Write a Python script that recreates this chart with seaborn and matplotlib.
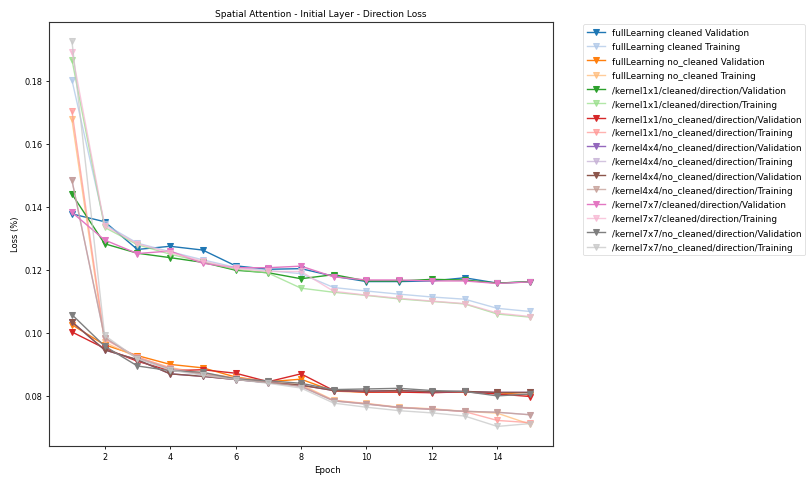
import matplotlib
matplotlib.use("Agg")
import matplotlib.pyplot as plt
import seaborn as sns
import pandas as pd

epochs = list(range(1, 16))

labels = [
    "fullLearning cleaned Validation",
    "fullLearning cleaned Training",
    "fullLearning no_cleaned Validation",
    "fullLearning no_cleaned Training",
    "/kernel1x1/cleaned/direction/Validation",
    "/kernel1x1/cleaned/direction/Training",
    "/kernel1x1/no_cleaned/direction/Validation",
    "/kernel1x1/no_cleaned/direction/Training",
    "/kernel4x4/no_cleaned/direction/Validation",
    "/kernel4x4/no_cleaned/direction/Training",
    "/kernel4x4/no_cleaned/direction/Validation",
    "/kernel4x4/no_cleaned/direction/Training",
    "/kernel7x7/cleaned/direction/Validation",
    "/kernel7x7/cleaned/direction/Training",
    "/kernel7x7/no_cleaned/direction/Validation",
    "/kernel7x7/no_cleaned/direction/Training",
]

full_clean_val = [0.1378, 0.1353, 0.1265, 0.1275, 0.1263, 0.1213, 0.1202, 0.1204, 0.1180, 0.1163, 0.1163, 0.1165, 0.1175, 0.1158, 0.1162]
full_clean_train = [0.1803, 0.1345, 0.1285, 0.1258, 0.1232, 0.1208, 0.1198, 0.1188, 0.1144, 0.1133, 0.1123, 0.1114, 0.1107, 0.1078, 0.1068]
full_noclean_val = [0.1026, 0.0962, 0.0928, 0.0900, 0.0889, 0.0860, 0.0845, 0.0853, 0.0815, 0.0812, 0.0813, 0.0811, 0.0812, 0.0810, 0.0803]
full_noclean_train = [0.1678, 0.0970, 0.0922, 0.0890, 0.0872, 0.0858, 0.0846, 0.0836, 0.0786, 0.0776, 0.0764, 0.0759, 0.0751, 0.0745, 0.0710]
k1_clean_val = [0.1441, 0.1283, 0.1253, 0.1239, 0.1224, 0.1199, 0.1191, 0.1172, 0.1185, 0.1165, 0.1165, 0.1170, 0.1168, 0.1158, 0.1163]
k1_clean_train = [0.1868, 0.1335, 0.1280, 0.1250, 0.1225, 0.1202, 0.1190, 0.1142, 0.1129, 0.1119, 0.1108, 0.1100, 0.1092, 0.1060, 0.1050]
k1_noclean_val = [0.1003, 0.0951, 0.0910, 0.0880, 0.0883, 0.0872, 0.0845, 0.0870, 0.0817, 0.0812, 0.0812, 0.0810, 0.0813, 0.0806, 0.0798]
k1_noclean_train = [0.1705, 0.0980, 0.0924, 0.0888, 0.0870, 0.0857, 0.0845, 0.0832, 0.0785, 0.0775, 0.0763, 0.0758, 0.0750, 0.0722, 0.0715]
k4_noclean_val = [0.1035, 0.0946, 0.0915, 0.0870, 0.0862, 0.0852, 0.0842, 0.0834, 0.0817, 0.0815, 0.0817, 0.0813, 0.0814, 0.0811, 0.0811]
k4_noclean_train = [0.1485, 0.0985, 0.0920, 0.0885, 0.0868, 0.0855, 0.0843, 0.0830, 0.0784, 0.0774, 0.0763, 0.0757, 0.0751, 0.0748, 0.0740]
k7_clean_val = [0.1383, 0.1295, 0.1252, 0.1260, 0.1221, 0.1207, 0.1207, 0.1212, 0.1178, 0.1168, 0.1168, 0.1165, 0.1165, 0.1157, 0.1162]
k7_clean_train = [0.1893, 0.1340, 0.1283, 0.1255, 0.1228, 0.1205, 0.1195, 0.1195, 0.1132, 0.1120, 0.1110, 0.1101, 0.1093, 0.1063, 0.1052]
k7_noclean_val = [0.1058, 0.0958, 0.0895, 0.0880, 0.0875, 0.0854, 0.0848, 0.0840, 0.0820, 0.0822, 0.0824, 0.0817, 0.0814, 0.0800, 0.0806]
k7_noclean_train = [0.1927, 0.0992, 0.0918, 0.0882, 0.0865, 0.0852, 0.0840, 0.0825, 0.0777, 0.0764, 0.0753, 0.0746, 0.0736, 0.0703, 0.0712]

series = [
    full_clean_val, full_clean_train,
    full_noclean_val, full_noclean_train,
    k1_clean_val, k1_clean_train,
    k1_noclean_val, k1_noclean_train,
    k4_noclean_val, k4_noclean_train,
    k4_noclean_val, k4_noclean_train,
    k7_clean_val, k7_clean_train,
    k7_noclean_val, k7_noclean_train,
]

colors = sns.color_palette("tab20", 16)

fig = plt.figure(figsize=(8.07, 4.81), dpi=100)
ax = fig.add_axes([49 / 807, 1 - 446.7 / 481, (553 - 49) / 807, (446.7 - 22.7) / 481])

for i, (lab, vals) in enumerate(zip(labels, series)):
    df = pd.DataFrame({"Epoch": epochs, "Loss": vals})
    is_train = i % 2 == 1
    sns.lineplot(data=df, x="Epoch", y="Loss", ax=ax, color=colors[i],
                 marker="v", markersize=4.2, linewidth=1.0,
                 markeredgecolor=colors[i], alpha=0.75 if is_train else 1.0,
                 label=lab)

ax.set_title("Spatial Attention - Initial Layer - Direction Loss", fontsize=6.5, pad=4, x=0.54)
ax.set_xlabel("Epoch", fontsize=6.3)
ax.xaxis.set_label_coords(0.553, -0.045)
ax.set_ylabel("Loss (%)", fontsize=6.0, labelpad=3)
ax.tick_params(axis="both", labelsize=5.9, length=2.5, width=0.6, pad=2)
for sp in ax.spines.values():
    sp.set_linewidth(0.8)
    sp.set_color("#333333")
ax.set_xticks([2, 4, 6, 8, 10, 12, 14])
ax.set_yticks([0.08, 0.10, 0.12, 0.14, 0.16, 0.18])

leg = ax.legend(loc="upper left", bbox_to_anchor=(1.055, 1.0), fontsize=6.4,
                frameon=True, handlelength=2.0, labelspacing=0.6,
                borderaxespad=0.3)
leg.get_frame().set_linewidth(0.5)

fig.savefig("out.png", dpi=100)
